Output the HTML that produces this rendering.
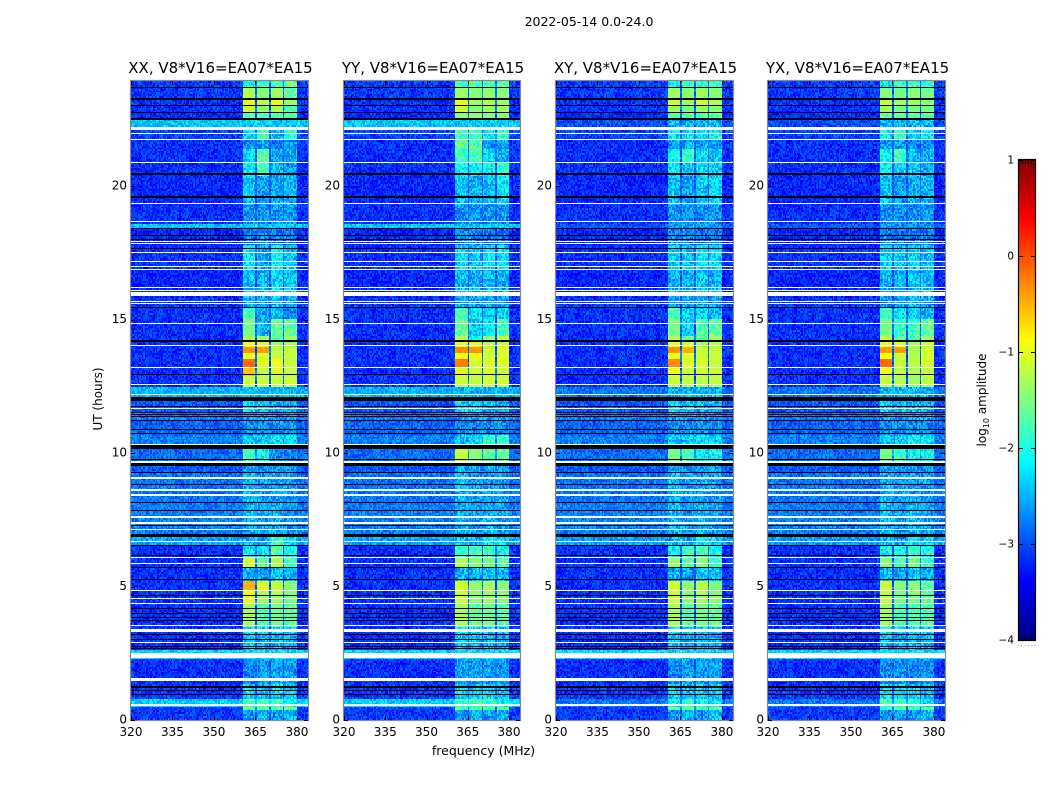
<!DOCTYPE html>
<html lang="en">
<head>
<meta charset="utf-8">
<title>2022-05-14 0.0-24.0</title>
<style>
html,body{margin:0;padding:0;background:#fff;}
#fig{position:relative;width:1050px;height:800px;overflow:hidden;background:#fff;}
canvas{position:absolute;image-rendering:pixelated;}
svg{position:absolute;left:0;top:0;}
text{font-family:"DejaVu Sans","Liberation Sans",sans-serif;fill:#000;}
</style>
</head>
<body>
<div id="fig">
<svg id="ov" width="1050" height="800" viewBox="0 0 1050 800">
<defs><linearGradient id="jetGrad" x1="0" y1="1" x2="0" y2="0"></linearGradient></defs>
<text x="589" y="26" text-anchor="middle" font-size="12.5">2022-05-14 0.0-24.0</text>
<text x="483.5" y="755" text-anchor="middle" font-size="12.5">frequency (MHz)</text>
<text transform="translate(102,399) rotate(-90)" text-anchor="middle" font-size="12">UT (hours)</text>
<text transform="translate(986,400) rotate(-90)" text-anchor="middle" font-size="12">log<tspan font-size="8" dy="3">10</tspan><tspan dy="-3"> amplitude</tspan></text>
</svg>
</div>
<script>
// ---- chart data (log10 amplitude, UT hours, MHz) ----
const polarisations = ['XX', 'YY', 'XY', 'YX'];
const xTicks = [320, 335, 350, 365, 380];
const yTicks = [0, 5, 10, 15, 20];
const colorTicks = [1, 0, -1, -2, -3, -4];
const spwStart = [360.5, 365.5, 370.5, 375.5];
const spwEnd = [365, 370, 375, 380];
const bandStart = [0,.34,.53,.79,1.39,2.29,2.67,3.30,3.53,4.36,4.70,4.87,5.18,5.75,6.08,6.57,6.91,8.07,9.27,9.61,10.18,10.74,11.27,11.57,12.13,12.47,12.95,13.22,13.59,13.82,14.01,14.27,14.46,15.10,15.47,15.88,16.90,17.84,18.44,18.66,19.38,20.46,20.92,21.40,21.78,22.15,22.57,22.79,23.09,23.32,23.77,24];
const baseParallel = [-3.1,-3.1,-2.35,-3.1,-3.15,-2.3,-3.15,-3.15,-3.15,-3.15,-3.15,-3.15,-3.15,-3.15,-3.15,-2.55,-2.75,-2.8,-2.95,-2.85,-2.75,-2.9,-2.75,-2.95,-2.5,-3.15,-3.15,-3.15,-3.15,-3.15,-3.15,-3.15,-3.15,-3.15,-3.1,-3.2,-3.15,-3.2,-2.4,-3.15,-3.2,-3.15,-3.15,-3.15,-3.05,-2.4,-3.2,-3.15,-3.15,-3.1,-3.1];
const baseCross = [-3.1,-3.1,-2.8,-3.1,-3.15,-2.3,-3.15,-3.15,-3.15,-3.15,-3.15,-3.15,-3.15,-3.15,-3.15,-2.6,-2.75,-2.8,-2.95,-2.85,-2.75,-2.9,-2.75,-2.95,-2.8,-3.15,-3.15,-3.15,-3.15,-3.15,-3.15,-3.15,-3.15,-3.15,-3.1,-3.2,-3.15,-3.2,-2.95,-3.15,-3.2,-3.15,-3.15,-3.15,-3.05,-3,-3.2,-3.15,-3.15,-3.1,-3.1];
const signalXX = [[-2.3,-2.2,-2.3,-2.2],[-1.5,-1.5,-1.6,-1.4],[-1.6,-1.6,-1.7,-1.8],[-2,-2.1,-2,-2.1],[-2.4,-2.3,-2.3,-2.3],[-2.1,-2.1,-2.1,-2.1],[-2.1,-2.2,-2.2,-2.2],[-1.9,-2,-2,-2],[-1.15,-1.6,-1.4,-1.5],[-.85,-1.2,-1.2,-1.4],[-.75,-1.1,-1.05,-1.3],[-.5,-.9,-1,-1.3],[-2.2,-2.3,-2.1,-2.2],[-.95,-1.5,-1.1,-1.6],[-1.9,-1.9,-1.5,-1.8],[-2.2,-2.3,-1.7,-2],[-2.2,-2.3,-2.2,-2.3],[-2.2,-2.3,-2.3,-2.3],[-2.25,-2.3,-2.3,-2.3],[-1.7,-1.8,-2.4,-2.4],[-2.1,-2.1,-1.9,-2],[-2.4,-2.4,-2.4,-2.4],[-2.3,-2.3,-2.3,-2.3],[-2,-2.1,-2.2,-2.2],[-2.2,-2.2,-2.2,-2.2],[-.95,-1,-1,-1],[-.6,-1,-.85,-1],[-.15,-.9,-.8,-1],[-.8,-.9,-1,-1],[-.35,-.4,-1,-1],[-.8,-.9,-1.2,-1.2],[-1.1,-1.15,-1.5,-1.2],[-1.4,-2.2,-1.5,-1.5],[-1.6,-2.2,-2.1,-2.4],[-2.3,-2.3,-2.2,-2.3],[-2.1,-2.2,-2,-2.1],[-1.9,-2.2,-1.8,-2.1],[-2.5,-2.4,-2.5,-2.5],[-2.1,-2.1,-2.1,-2.1],[-2.35,-2.35,-2.35,-2.35],[-2.1,-2.3,-2.2,-2.2],[-1.9,-1.6,-2.2,-2.3],[-2,-1.5,-2.3,-2.2],[-2.4,-2.3,-2.5,-2.3],[-1.95,-1.6,-2.2,-1.7],[-2.1,-2.1,-2.2,-2.2],[-1.5,-1.5,-1.5,-1.5],[-1,-1.3,-1.1,-1.6],[-.9,-1.1,-.85,-1.2],[-1.1,-1.3,-1.2,-1.5],[-1.8,-1.6,-1.6,-1.5]];
const signalYY = [[-2.3,-2.2,-2.3,-2.2],[-1.6,-1.6,-1.6,-1.5],[-1.7,-1.6,-1.7,-1.8],[-2,-2,-2,-2.1],[-2.3,-2.3,-2.3,-2.3],[-2.1,-2.1,-2.1,-2.1],[-2.1,-2.2,-2.2,-2.2],[-1.9,-2,-2,-2],[-1.15,-1.5,-1.4,-1.5],[-1,-1.3,-1.2,-1.3],[-1,-1.3,-1.2,-1.3],[-.95,-1.25,-1.15,-1.3],[-2.2,-2.2,-2.1,-2.2],[-1.15,-1.35,-1.4,-1.5],[-1.7,-1.7,-1.7,-1.8],[-2.1,-2.2,-2,-2],[-2.2,-2.3,-2.2,-2.3],[-2.2,-2.3,-2.3,-2.3],[-2.25,-2.3,-2.3,-2.3],[-1,-1.3,-1.5,-1.5],[-2.1,-2,-1.7,-1.7],[-2.4,-2.4,-2.4,-2.4],[-2.3,-2.3,-2.3,-2.3],[-2,-2.1,-2.2,-2.2],[-2.2,-2.2,-2.2,-2.2],[-1,-1.05,-.95,-.95],[-.9,-1,-.9,-.95],[-.25,-.95,-.9,-.9],[-.85,-.8,-.95,-.9],[-.3,-.35,-.95,-.9],[-.85,-.9,-1.05,-.95],[-1.1,-1.9,-1.2,-1],[-1.5,-2,-1.9,-1.6],[-1.6,-1.9,-2,-2],[-2.3,-2.3,-2.2,-2.3],[-2.2,-2.2,-2.1,-2.2],[-2,-2.1,-1.9,-2],[-2.4,-2.4,-2.5,-2.5],[-2.1,-2.1,-2.1,-2.1],[-2.35,-2.35,-2.35,-2.35],[-2.1,-2.2,-2.1,-1.9],[-1.8,-1.8,-1.8,-1.7],[-1.7,-1.6,-2,-2.2],[-1.5,-1.5,-2.3,-2.3],[-1.7,-1.7,-2,-1.7],[-2.1,-2.1,-2.2,-2.2],[-1.3,-1.3,-1.3,-1.3],[-.95,-1.3,-1.2,-1.2],[-.85,-1.2,-1.1,-1.2],[-1.2,-1.3,-1.25,-1.3],[-1.7,-1.6,-1.6,-1.5]];
const signalXY = [[-2.3,-2.2,-2.3,-2.2],[-1.5,-1.5,-1.6,-1.5],[-1.8,-1.7,-1.8,-1.9],[-2,-2.1,-2,-2.1],[-2.4,-2.3,-2.3,-2.3],[-2.1,-2.1,-2.1,-2.1],[-2.1,-2.2,-2.2,-2.2],[-1.9,-2,-2,-2],[-1.15,-1.5,-1.4,-1.5],[-1,-1.3,-1.2,-1.3],[-1,-1.3,-1.1,-1.35],[-.95,-1.25,-1.05,-1.35],[-2.2,-2.3,-2.1,-2.2],[-1.25,-1.5,-1.3,-1.6],[-1.8,-1.7,-1.6,-1.8],[-2.2,-2.2,-1.9,-2],[-2.2,-2.3,-2.2,-2.3],[-2.2,-2.3,-2.3,-2.3],[-2.25,-2.3,-2.3,-2.3],[-1.4,-1.6,-1.8,-1.8],[-2.1,-2.1,-1.9,-2],[-2.4,-2.4,-2.4,-2.4],[-2.3,-2.3,-2.3,-2.3],[-2,-2.1,-2.2,-2.2],[-2.2,-2.2,-2.2,-2.2],[-1,-1.05,-1.05,-1.05],[-.8,-1,-.95,-1],[-.3,-.9,-.9,-1],[-.85,-.9,-1,-1],[-.35,-.5,-1,-1],[-.85,-.95,-1.2,-1.1],[-1.1,-1.5,-1.5,-1.2],[-1.4,-2,-1.6,-1.5],[-1.6,-2,-2,-2.2],[-2.3,-2.3,-2.2,-2.3],[-2.2,-2.2,-2.1,-2.2],[-2,-2.1,-1.9,-2],[-2.4,-2.4,-2.5,-2.5],[-2.3,-2.3,-2.3,-2.3],[-2.35,-2.35,-2.35,-2.35],[-2.1,-2.3,-2.1,-2],[-1.9,-2.1,-2,-2],[-1.8,-1.7,-2,-2.1],[-2.3,-2.2,-2.3,-2.3],[-1.9,-1.9,-2,-1.8],[-2.2,-2.2,-2.2,-2.2],[-1.5,-1.5,-1.5,-1.5],[-1.2,-1.4,-1.2,-1.3],[-.95,-1.2,-.95,-1.15],[-1.2,-1.3,-1.2,-1.3],[-1.8,-1.7,-1.7,-1.7]];
const signalYX = [[-2.3,-2.3,-2.3,-2.2],[-1.6,-1.6,-1.6,-1.5],[-1.6,-1.6,-1.7,-2],[-1.9,-2,-2,-2.1],[-2.4,-2.3,-2.4,-2.4],[-2.1,-2.1,-2.1,-2.1],[-2.1,-2.2,-2.2,-2.2],[-1.9,-2,-2,-2],[-1.2,-1.6,-1.6,-1.6],[-1.05,-1.4,-1.4,-1.5],[-1.05,-1.4,-1.3,-1.5],[-1,-1.3,-1.3,-1.5],[-2.2,-2.3,-2.1,-2.2],[-1.3,-1.6,-1.5,-1.7],[-1.8,-1.8,-1.7,-1.8],[-2.2,-2.3,-1.9,-2],[-2.2,-2.3,-2.2,-2.3],[-2.2,-2.3,-2.3,-2.3],[-2.25,-2.3,-2.3,-2.3],[-1.4,-1.7,-1.8,-1.8],[-2.1,-2.1,-1.8,-1.9],[-2.4,-2.4,-2.4,-2.4],[-2.3,-2.3,-2.3,-2.3],[-2,-2.1,-2.2,-2.2],[-2.2,-2.2,-2.2,-2.2],[-1,-1.1,-1.2,-1.05],[-.8,-1.05,-1.1,-1],[-.15,-1,-1.05,-.95],[-.8,-1,-1.1,-.95],[-.4,-.4,-1.15,-.95],[-.85,-.9,-1.2,-1],[-1,-1.5,-1.6,-1.2],[-1.4,-1.7,-1.7,-1.5],[-1.6,-1.9,-2,-2.2],[-2.3,-2.3,-2.2,-2.3],[-2.2,-2.2,-2.1,-2.2],[-2,-2.1,-2,-2.1],[-2.4,-2.5,-2.5,-2.5],[-2.3,-2.3,-2.3,-2.3],[-2.35,-2.35,-2.35,-2.35],[-2.1,-2.3,-2.2,-2.2],[-1.8,-2,-2.1,-2.2],[-1.8,-1.7,-2.2,-2.2],[-2.3,-2.3,-2.4,-2.4],[-1.8,-1.7,-2,-1.9],[-2.2,-2.2,-2.2,-2.2],[-1.5,-1.5,-1.5,-1.5],[-1.2,-1.4,-1.4,-1.4],[-1,-1.2,-1.2,-1.3],[-1.3,-1.4,-1.3,-1.4],[-1.8,-1.7,-1.7,-1.7]];
const blackFlagStart = [23.75,23.30,23.05,22.79,22.55,20.46,19.62,18.44,18.19,18.02,17.69,15.47,14.21,12.94,11.98,11.77,11.55,11.45,11.38,11.23,10.89,10.74,10.18,9.76,9.54,9.26,8.84,8.15,7.87,7.30,6.89,6.55,6.18,5.71,5.24,4.64,4.17,3.98,3.83,3.70,3.19,3.00,2.74,2.67,1.22,1.09,.94];
const blackFlagEnd = [23.79,23.36,23.09,22.83,22.62,20.56,19.68,18.47,18.23,18.06,17.72,15.51,14.27,12.99,12.13,11.81,11.58,11.49,11.41,11.27,10.93,10.77,10.33,9.80,9.65,9.31,8.88,8.19,7.90,7.34,6.97,6.59,6.21,5.75,5.28,4.68,4.21,4.02,3.87,3.74,3.23,3.04,2.78,2.70,1.26,1.13,.98];
const whiteFlagStart = [22.15,22,21.78,20.92,19.38,18.70,17.97,17.87,17.54,17.22,17.01,16.90,16.24,16.11,15.92,15.70,15.62,14.87,14.04,13.22,12.58,12.19,11.68,10.33,9.65,9.05,8.60,8.43,7.59,7.38,7.15,6.68,6.08,5.86,4.84,4.54,4.36,3.53,3.30,2.89,2.31,1.45,.53];
const whiteFlagEnd = [22.27,22.04,21.82,20.95,19.41,18.74,18,17.91,17.57,17.25,17.05,16.94,16.28,16.15,16.07,15.73,15.66,14.91,14.08,13.26,12.62,12.24,11.72,10.36,9.71,9.14,8.67,8.47,7.66,7.42,7.19,6.72,6.12,5.90,4.88,4.58,4.39,3.57,3.42,2.93,2.53,1.56,.60];
// Hand-typed speckle texture tile (rendering grain only, not measured values).
const grainTile = [
"38152749607318426951037284615","61840372951640285173946028537","27596041386295714038261759430",
"94037162850473916285047391628","15862937401582649370158264937","70346158924703581692470358169",
"43918260573196428051739642805","86205749130862574913086257491","29471036586294710365862947103",
"51738694025173869402517386940","04682517936046825179360468251","97315840269731584026973158402",
"32860971543286097154328609715","68194327056819432705681943270","15073862941507386294150738629",
"79426105387942610538794261053","40538296174053829617405382961","23967410582396741058239674105",
"86150923746815092374681509237","51294786035129478603512947860","07483615920748361592074836159",
"94726038519472603851947260385","36059147283605914728360591472"];

// ---- layout ----
const panelLeft = [131, 344, 556, 768];
const panelRight = [308, 520, 733, 945];
const axesTop = 81, axesBottom = 720;
const freqMin = 320, freqMax = 384, hoursMax = 24, channels = 128, rows = 336;
const logMin = -4, logMax = 1;
const tickStretch = 1.0026;
const cbarX0 = 1019, cbarX1 = 1035, cbarY0 = 160, cbarY1 = 640;
const signals = {XX: signalXX, YY: signalYY, XY: signalXY, YX: signalYX};
const NS = 'http://www.w3.org/2000/svg';
const ov = document.getElementById('ov');
const fig = document.getElementById('fig');

function clamp01(v){ return Math.max(0, Math.min(1, v)); }
function jet(v){
  v = clamp01(v);
  const r = clamp01(1.5 - Math.abs(4 * v - 3));
  const g = clamp01(1.5 - Math.abs(4 * v - 2));
  const b = clamp01(1.5 - Math.abs(4 * v - 1));
  return 'rgb(' + Math.round(r * 255) + ',' + Math.round(g * 255) + ',' + Math.round(b * 255) + ')';
}
function colorOf(logA){ return jet((logA - logMin) / (logMax - logMin)); }
function yScale(h){ return axesBottom - (h / hoursMax) * (axesBottom - axesTop); }
function xScale(p, mhz){ return panelLeft[p] + (mhz - freqMin) / (freqMax - freqMin) * (panelRight[p] - panelLeft[p]); }
function cbarScale(v){ return cbarY1 - (v - logMin) / (logMax - logMin) * (cbarY1 - cbarY0); }
function bandAt(h){
  for (let i = bandStart.length - 2; i >= 0; i--) if (h >= bandStart[i]) return i;
  return 0;
}
function spwAt(f){
  for (let i = 0; i < spwStart.length; i++) if (f >= spwStart[i] && f < spwEnd[i]) return i;
  return -1;
}
function signalLevel(s){
  if (s < -1.7) return s - 0.3;
  if (s <= -0.7) return s - 0.15;
  return s;
}
function grainAt(r, c, p){
  const row = grainTile[(r * 5 + c * 3 + p * 7) % grainTile.length];
  return Number(row[(c * 7 + r * r + p * 11) % row.length]) - 4.5;
}
function line(x1, y1, x2, y2, color, w){
  const l = document.createElementNS(NS, 'line');
  l.setAttribute('x1', x1); l.setAttribute('y1', y1);
  l.setAttribute('x2', x2); l.setAttribute('y2', y2);
  l.setAttribute('stroke', color); l.setAttribute('stroke-width', w);
  return l;
}
function label(x, y, txt, anchor, size){
  const t = document.createElementNS(NS, 'text');
  t.setAttribute('x', x); t.setAttribute('y', y);
  t.setAttribute('text-anchor', anchor); t.setAttribute('font-size', size);
  t.textContent = txt;
  return t;
}

polarisations.forEach(function(pol, p){
  const left = panelLeft[p], right = panelRight[p];
  const W = right - left, H = axesBottom - axesTop;
  const cv = document.createElement('canvas');
  cv.width = W; cv.height = H;
  cv.style.left = left + 'px'; cv.style.top = axesTop + 'px';
  
  
  fig.insertBefore(cv, ov);
  const ctx = cv.getContext('2d');
  const sig = signals[pol];
  const base = p < 2 ? baseParallel : baseCross;
  for (let r = 0; r < rows; r++) {
    const h0 = r / rows * hoursMax, h1 = (r + 1) / rows * hoursMax;
    const y0 = Math.round(yScale(h1)) - axesTop, y1 = Math.round(yScale(h0)) - axesTop;
    const b = bandAt((h0 + h1) / 2);
    for (let c = 0; c < channels; c++) {
      const f0 = freqMin + c / channels * (freqMax - freqMin);
      const f1 = freqMin + (c + 1) / channels * (freqMax - freqMin);
      const fm = (f0 + f1) / 2;
      const spw = spwAt(fm);
      const grain = grainAt(r, c, p);
      let val;
      if (spw >= 0) {
        const s = signalLevel(sig[b][spw]);
        if (s > base[b]) {
          val = s + grain * (s < -1.6 ? 0.08 : 0.015);
        } else {
          val = base[b] + grain * 0.06;
        }
      } else if (fm > spwStart[0] && fm < spwEnd[spwEnd.length - 1]) {
        val = base[b] + 0.25 + grain * 0.06;
      } else {
        val = base[b] + grain * 0.06;
      }
      const x0 = Math.round(xScale(p, f0)) - left, x1 = Math.round(xScale(p, f1)) - left;
      ctx.fillStyle = colorOf(val);
      ctx.fillRect(x0, y0, Math.max(1, x1 - x0), Math.max(1, y1 - y0));
    }
  }
  ctx.fillStyle = '#000';
  blackFlagStart.forEach(function(s, i){
    const ya = Math.round(yScale(blackFlagEnd[i])) - axesTop, yb = Math.round(yScale(s)) - axesTop;
    ctx.fillRect(0, ya, W, Math.max(1, yb - ya));
  });
  ctx.fillStyle = '#fff';
  whiteFlagStart.forEach(function(s, i){
    const ya = Math.round(yScale(whiteFlagEnd[i])) - axesTop, yb = Math.round(yScale(s)) - axesTop;
    ctx.fillRect(0, ya, W, Math.max(1, yb - ya));
  });

  const g = document.createElementNS(NS, 'g');
  
  
  ov.appendChild(g);

  const frame = document.createElementNS(NS, 'rect');
  frame.setAttribute('x', left - 0.5);
  frame.setAttribute('y', axesTop - 0.5);
  frame.setAttribute('width', W + 1);
  frame.setAttribute('height', H + 1);
  frame.setAttribute('fill', 'none');
  frame.setAttribute('stroke', '#8a8a8a');
  frame.setAttribute('stroke-width', '1.2');
  
  
  g.appendChild(frame);

  const title = label((left + right) / 2 + 1, 73, pol + ', V8*V16=EA07*EA15', 'middle', 15);
  
  
  g.appendChild(title);

  xTicks.forEach(function(v){
    const x = Math.round(xScale(p, v)) + 0.5;
    const tb = line(x, axesBottom, x, axesBottom - 4, '#000', 1);
    
    
    g.appendChild(tb);
    const tt = line(x, axesTop, x, axesTop + 4, '#000', 1);
    
    
    g.appendChild(tt);
    const tl = label(xScale(p, v), 736, String(v), 'middle', 12);
    
    
    g.appendChild(tl);
  });
  yTicks.forEach(function(v){
    const yPos = yScale(v * tickStretch);
    const y = Math.round(yPos) + 0.5;
    const tl0 = line(left, y, left + 4, y, '#000', 1);
    
    
    g.appendChild(tl0);
    const tr0 = line(right, y, right - 4, y, '#000', 1);
    
    
    g.appendChild(tr0);
    const tl = label(left - 4, yPos + 3.5, String(v), 'end', 12);
    
    
    g.appendChild(tl);
  });
});

// ---- colour bar ----
const grad = document.getElementById('jetGrad');
for (let i = 0; i <= 64; i++) {
  const s = document.createElementNS(NS, 'stop');
  s.setAttribute('offset', (i / 64 * 100) + '%');
  s.setAttribute('stop-color', jet(i / 64));
  grad.appendChild(s);
}
const cbarG = document.createElementNS(NS, 'g');


ov.appendChild(cbarG);
const cbarOuter = document.createElementNS(NS, 'rect');
cbarOuter.setAttribute('x', cbarX0 - 0.5);
cbarOuter.setAttribute('y', cbarY0 - 0.5);
cbarOuter.setAttribute('width', cbarX1 - cbarX0 + 1);
cbarOuter.setAttribute('height', cbarY1 - cbarY0 + 1);
cbarOuter.setAttribute('fill', 'url(#jetGrad)');
cbarOuter.setAttribute('stroke', '#000');
cbarOuter.setAttribute('stroke-width', '1.2');


cbarG.appendChild(cbarOuter);
colorTicks.forEach(function(v){
  const y = Math.round(cbarScale(v)) + 0.5;
  const a = line(cbarX0, y, cbarX0 + 4, y, '#000', 1);
  
  
  cbarG.appendChild(a);
  const b = line(cbarX1, y, cbarX1 - 4, y, '#000', 1);
  
  
  cbarG.appendChild(b);
  const t = label(cbarX0 - 5, cbarScale(v) + 3.5, v < 0 ? '\u2212' + Math.abs(v) : String(v), 'end', 10.5);
  
  
  cbarG.appendChild(t);
});
[1022.5, 1025.5, 1028.5, 1031.5].forEach(function(x){
  const top = line(x, cbarY0, x, cbarY0 + 4, '#000', 1);
  
  
  cbarG.appendChild(top);
  const bot = line(x, cbarY1, x, cbarY1 - 4, '#000', 1);
  
  
  cbarG.appendChild(bot);
});
[1017.5, 1021, 1024.5, 1028, 1031.5, 1034.5].forEach(function(x){
  const d = line(x, 645.5, x + 1, 645.5, '#aaa', 1);
  
  
  cbarG.appendChild(d);
});
</script>
</body>
</html>
